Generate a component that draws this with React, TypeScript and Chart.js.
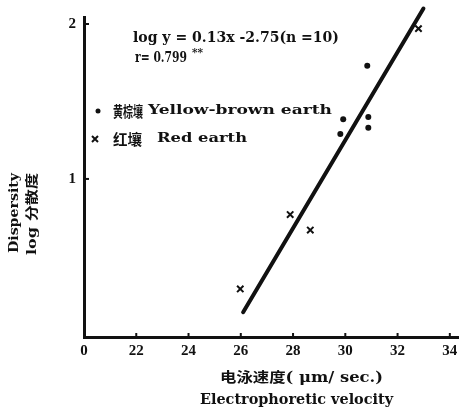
import { useEffect, useRef } from 'react';
import { Chart, registerables } from 'chart.js';
Chart.register(...registerables);

const yellowBrownX = [30.84, 29.92, 30.88, 30.88, 29.81];
const yellowBrownY = [1.73, 1.385, 1.4, 1.33, 1.29];
const redX = [32.8, 27.89, 28.66, 25.98];
const redY = [1.97, 0.77, 0.67, 0.29];
const fitX = [26.09, 32.99];
const fitY = [0.14, 2.1];
const xTickValues = [20, 22, 24, 26, 28, 30, 32, 34];
const xTickLabels = ['0', '22', '24', '26', '28', '30', '32', '34'];
const yTickValues = [1, 2];
const yTickLabels = ['1', '2'];
const equationText = 'log y = 0.13x -2.75(n =10)';
const rText = 'r= 0.799';
const rStars = '**';
const legendYB = ['黄棕壤', 'Yellow-brown earth'];
const legendRed = ['红壤', 'Red earth'];
const xTitle = ['电泳速度( μm/ sec.)', 'Electrophoretic velocity'];
const yTitle = ['Dispersity', 'log 分散度'];

const INK = '#111';
const SERIF = "'DejaVu Serif', 'Noto Sans CJK SC', serif";
const CJK = "'Noto Sans CJK SC', 'DejaVu Serif', sans-serif";

function fitText(ctx: CanvasRenderingContext2D, text: string, x: number, y: number, w: number, font: string) {
  ctx.save();
  ctx.font = font;
  const m = ctx.measureText(text).width;
  ctx.translate(x, y);
  ctx.scale(w / m, 1);
  ctx.textAlign = 'left';
  ctx.textBaseline = 'middle';
  ctx.fillStyle = INK;
  ctx.fillText(text, 0, 0);
  ctx.restore();
}

function fitTextV(ctx: CanvasRenderingContext2D, text: string, cx: number, cy: number, len: number, font: string) {
  ctx.save();
  ctx.font = font;
  const m = ctx.measureText(text).width;
  ctx.translate(cx, cy);
  ctx.rotate(-Math.PI / 2);
  ctx.scale(len / m, 1);
  ctx.textAlign = 'center';
  ctx.textBaseline = 'middle';
  ctx.fillStyle = INK;
  ctx.fillText(text, 0, 0);
  ctx.restore();
}

const overlayPlugin = {
  id: 'overlay',
  afterDraw(chart: any) {
    const ctx: CanvasRenderingContext2D = chart.ctx;
    const xs = chart.scales.x;
    const ys = chart.scales.y;
    // inward ticks
    ctx.save();
    ctx.strokeStyle = INK;
    ctx.lineWidth = 2;
    xTickValues.forEach((v, i) => {
      if (i === 0) return;
      const px = xs.getPixelForValue(v);
      ctx.beginPath();
      ctx.moveTo(px, ys.bottom);
      ctx.lineTo(px, ys.bottom - 4);
      ctx.stroke();
    });
    yTickValues.forEach((v) => {
      const py = ys.getPixelForValue(v);
      ctx.beginPath();
      ctx.moveTo(xs.left, py);
      ctx.lineTo(xs.left + 5, py);
      ctx.stroke();
    });
    ctx.restore();

    // equation
    fitText(ctx, equationText, 133, 38, 206, `bold 14px ${SERIF}`);
    fitText(ctx, rText, 135, 58, 52, `bold 14px ${SERIF}`);
    fitText(ctx, rStars, 192, 53, 11, `bold 11px ${SERIF}`);

    // legend
    ctx.save();
    ctx.fillStyle = INK;
    ctx.beginPath();
    ctx.arc(98, 111, 2.5, 0, Math.PI * 2);
    ctx.fill();
    ctx.strokeStyle = INK;
    ctx.lineWidth = 2;
    ctx.beginPath();
    ctx.moveTo(92, 136);
    ctx.lineTo(98, 142);
    ctx.moveTo(98, 136);
    ctx.lineTo(92, 142);
    ctx.stroke();
    ctx.restore();
    fitText(ctx, legendYB[0], 113, 111, 30, `bold 15px ${CJK}`);
    fitText(ctx, legendYB[1], 148, 111, 184, `bold 13px ${SERIF}`);
    fitText(ctx, legendRed[0], 113, 139, 29, `bold 15px ${CJK}`);
    fitText(ctx, legendRed[1], 157, 139, 90, `bold 13px ${SERIF}`);

    // x title
    fitText(ctx, xTitle[0], 220, 378, 163, `bold 14px ${SERIF}`);
    fitText(ctx, xTitle[1], 200, 400, 193, `bold 14px ${SERIF}`);

    // y title
    fitTextV(ctx, yTitle[0], 15, 213, 80, `bold 13px ${SERIF}`);
    fitTextV(ctx, yTitle[1], 33, 214, 82, `bold 13px ${SERIF}`);
  },
};

export default function App() {
  const ref = useRef<HTMLCanvasElement | null>(null);
  useEffect(() => {
    if (!ref.current) return;
    const chart = new Chart(ref.current, {
      type: 'scatter',
      data: {
        datasets: [
          {
            label: 'Yellow-brown earth',
            data: yellowBrownX.map((x, i) => ({ x, y: yellowBrownY[i] })),
            pointStyle: 'circle',
            pointRadius: 3,
            backgroundColor: INK,
            borderColor: INK,
            borderWidth: 0,
          },
          {
            label: 'Red earth',
            data: redX.map((x, i) => ({ x, y: redY[i] })),
            pointStyle: 'crossRot',
            pointRadius: 4.5,
            borderColor: INK,
            borderWidth: 2,
          },
          {
            label: 'fit',
            data: fitX.map((x, i) => ({ x, y: fitY[i] })),
            showLine: true,
            pointRadius: 0,
            borderColor: INK,
            borderWidth: 4,
            borderCapStyle: 'round',
            clip: false as any,
          } as any,
        ],
      },
      options: {
        animation: false,
        responsive: false,
        devicePixelRatio: 1,
        layout: { padding: { left: 0, right: 0, top: 15, bottom: 0 } },
        plugins: { legend: { display: false }, tooltip: { enabled: false }, title: { display: false } },
        scales: {
          x: {
            type: 'linear',
            min: 20,
            max: 34.37,
            afterBuildTicks: (s: any) => {
              s.ticks = xTickValues.map((v) => ({ value: v }));
            },
            afterFit: (s: any) => {
              s.height = 75;
            },
            ticks: {
              color: INK,
              padding: 5,
              font: { family: "'Liberation Serif', serif", size: 15, weight: 'bold' },
              callback: (v: any) => xTickLabels[xTickValues.indexOf(Number(v))] ?? '',
            },
            grid: { display: true, drawOnChartArea: false, drawTicks: false, color: 'rgba(0,0,0,0)' },
            border: { display: true, color: INK, width: 3 },
          },
          y: {
            type: 'linear',
            min: -0.02,
            max: 2.045,
            afterBuildTicks: (s: any) => {
              s.ticks = yTickValues.map((v) => ({ value: v }));
            },
            afterFit: (s: any) => {
              s.width = 84;
            },
            ticks: {
              color: INK,
              padding: 8,
              font: { family: "'Liberation Serif', serif", size: 15, weight: 'bold' },
              callback: (v: any) => yTickLabels[yTickValues.indexOf(Number(v))] ?? '',
            },
            grid: { display: true, drawOnChartArea: false, drawTicks: false, color: 'rgba(0,0,0,0)' },
            border: { display: true, color: INK, width: 3 },
          },
        },
      },
      plugins: [overlayPlugin],
    });
    return () => chart.destroy();
  }, []);
  return (
    <div style={{ position: 'fixed', left: 0, top: 0, width: 459, height: 412, overflow: 'hidden', background: '#fff' }}>
      <canvas ref={ref} width={466} height={412} style={{ display: 'block' }} />
    </div>
  );
}
